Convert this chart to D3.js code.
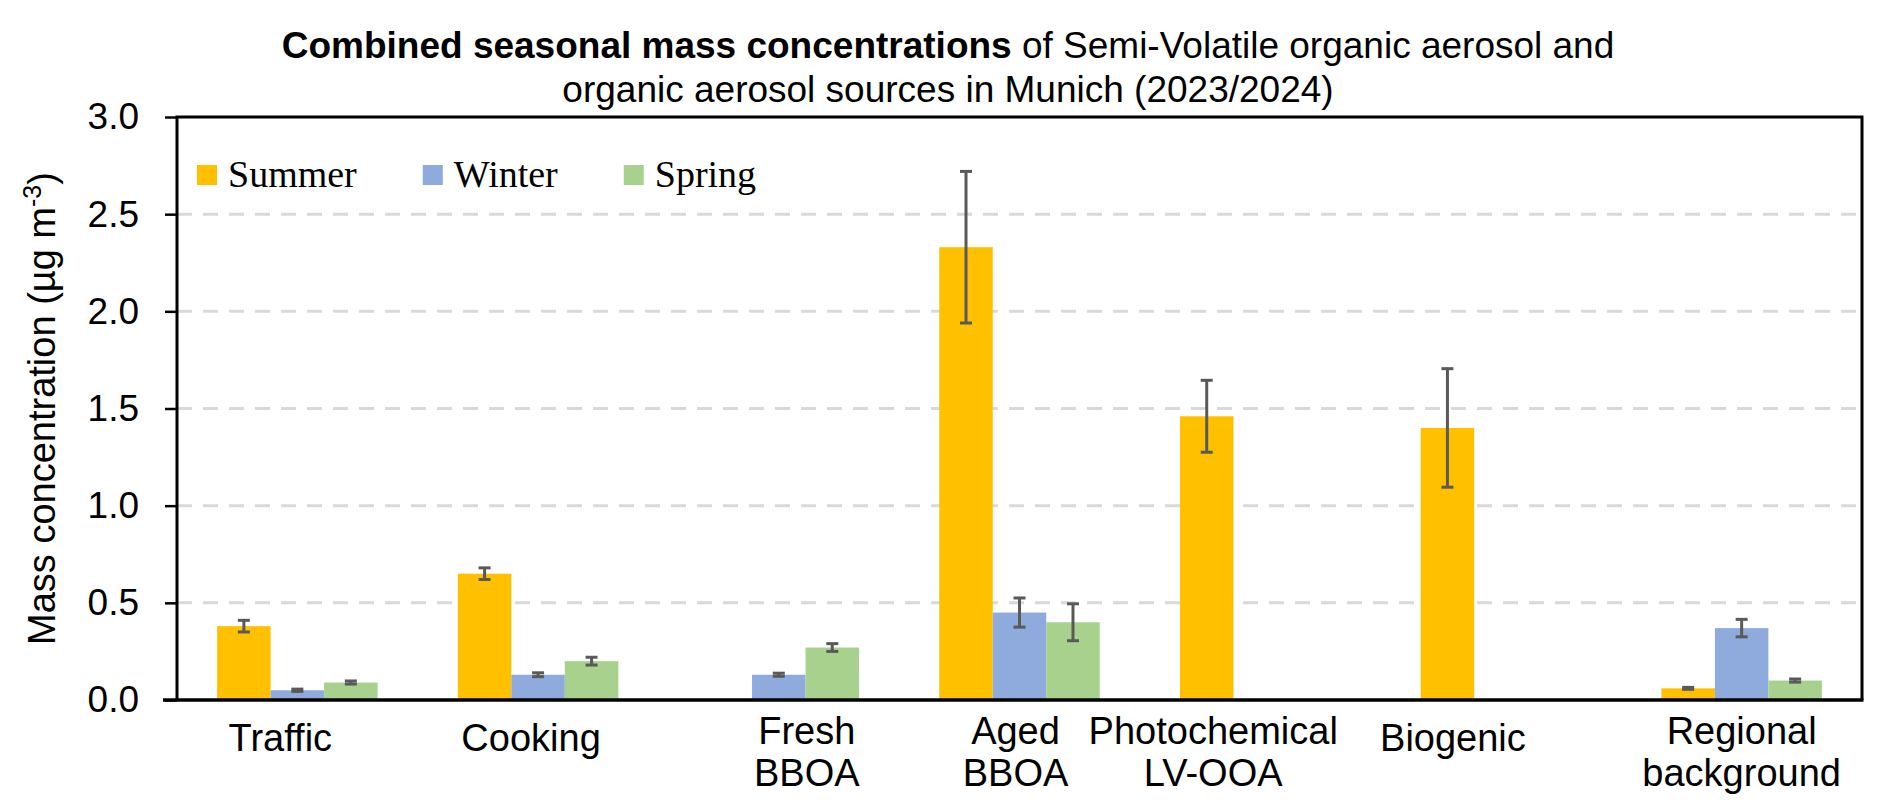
<!DOCTYPE html>
<html>

<head>
    <meta charset="UTF-8">
    <title>Seasonal OA sources Munich</title>
    <script src="https://d3js.org/d3.v7.min.js"></script>
    <style>
        body {
            margin: 0;
            background-color: white;
        }
    </style>
</head>

<body>
    <div id="chart"></div>
    <script>
        // values (µg m-3), null = no bar
        var categories = ['Traffic', 'Cooking', 'Fresh\nBBOA', 'Aged\nBBOA', 'Photochemical\nLV-OOA', 'Biogenic', 'Regional\nbackground'];
        var seasons = ['Summer', 'Winter', 'Spring'];
        var summer = [0.38, 0.65, null, 2.33, 1.46, 1.40, 0.06];
        var winter = [0.05, 0.13, 0.13, 0.45, null, null, 0.37];
        var spring = [0.09, 0.20, 0.27, 0.40, null, null, 0.10];
        var summerErr = [0.03, 0.03, null, 0.39, 0.185, 0.305, 0.005];
        var winterErr = [0.006, 0.01, 0.008, 0.075, null, null, 0.045];
        var springErr = [0.008, 0.02, 0.02, 0.095, null, null, 0.008];
        var yTicks = [0, 0.5, 1.0, 1.5, 2.0, 2.5, 3.0];

        (function(d3) {

            var width = 1892;
            var height = 812;
            var left = 177, right = 1862, top = 117, bottom = 700;

            var colors = { Summer: '#FFC000', Winter: '#8FAADC', Spring: '#A9D18E' };
            var values = { Summer: summer, Winter: winter, Spring: spring };
            var errs = { Summer: summerErr, Winter: winterErr, Spring: springErr };
            // hand placed category labels in the original, offset from band centre
            var labelNudge = [-17, -7, 28, -4, -47, -48, 0];

            var svg = d3.select('#chart')
                .append('svg')
                    .attr('width', width)
                    .attr('height', height)
                    .style('background', 'white');

            var x0 = d3.scaleBand()
                .domain(categories)
                .range([left, right])
                .padding(0);

            var x1 = d3.scaleBand()
                .domain(seasons)
                .range([0, x0.bandwidth()])
                .paddingInner(0)
                .paddingOuter(0.75);

            var y = d3.scaleLinear()
                .domain([0, 3])
                .range([bottom, top]);

            // dashed gridlines
            svg.append('g')
                .selectAll('line')
                .data(yTicks.filter(function(t) { return t > 0 && t < 3; }))
                .enter()
                .append('line')
                    .attr('x1', left)
                    .attr('x2', right)
                    .attr('y1', function(d) { return y(d); })
                    .attr('y2', function(d) { return y(d); })
                    .attr('stroke', '#d9d9d9')
                    .attr('stroke-width', 3)
                    .attr('stroke-dasharray', '15,11');

            // bars
            var rows = [];
            categories.forEach(function(c, i) {
                seasons.forEach(function(s) {
                    if (values[s][i] != null) {
                        rows.push({ cat: c, season: s, value: values[s][i], err: errs[s][i] });
                    }
                });
            });

            svg.append('g')
                .selectAll('rect')
                .data(rows)
                .enter()
                .append('rect')
                    .attr('x', function(d) { return x0(d.cat) + x1(d.season); })
                    .attr('width', x1.bandwidth())
                    .attr('y', function(d) { return y(d.value); })
                    .attr('height', function(d) { return y(0) - y(d.value); })
                    .attr('fill', function(d) { return colors[d.season]; });

            // error bars
            var eb = svg.append('g')
                .selectAll('g')
                .data(rows.filter(function(d) { return d.err != null; }))
                .enter()
                .append('g')
                    .attr('stroke', '#595959')
                    .attr('stroke-width', 3);

            var cx = function(d) { return x0(d.cat) + x1(d.season) + x1.bandwidth() / 2; };
            eb.append('line')
                .attr('x1', cx).attr('x2', cx)
                .attr('y1', function(d) { return y(d.value - d.err); })
                .attr('y2', function(d) { return y(d.value + d.err); });
            [-1, 1].forEach(function(sign) {
                eb.append('line')
                    .attr('x1', function(d) { return cx(d) - 6; })
                    .attr('x2', function(d) { return cx(d) + 6; })
                    .attr('y1', function(d) { return y(d.value + sign * d.err); })
                    .attr('y2', function(d) { return y(d.value + sign * d.err); });
            });

            // frame
            svg.append('path')
                .attr('d', 'M' + left + ',' + bottom + 'V' + top + 'H' + right + 'V' + bottom)
                .attr('fill', 'none')
                .attr('stroke', 'black')
                .attr('stroke-width', 3);
            svg.append('line')
                .attr('x1', left - 14).attr('x2', right + 1.5)
                .attr('y1', bottom).attr('y2', bottom)
                .attr('stroke', 'black')
                .attr('stroke-width', 3.5);

            // y axis
            var yAxis = svg.append('g')
                .attr('transform', 'translate(' + left + ',0)')
                .call(d3.axisLeft(y).tickValues(yTicks).tickSize(12).tickPadding(26).tickFormat(d3.format('.1f')));
            yAxis.select('.domain').remove();
            yAxis.selectAll('.tick line').attr('stroke', 'black').attr('stroke-width', 2.5);
            yAxis.selectAll('.tick text')
                .attr('font-family', 'Liberation Sans, Arial, sans-serif')
                .attr('font-size', 37)
                .attr('fill', 'black');

            // y title
            var yt = svg.append('text')
                .attr('transform', 'translate(55,' + ((top + bottom) / 2) + ') rotate(-90)')
                .attr('text-anchor', 'middle')
                .attr('font-family', 'Liberation Sans, Arial, sans-serif')
                .attr('font-size', 38)
                .attr('fill', 'black');
            yt.append('tspan').text('Mass concentration (µg m');
            yt.append('tspan').attr('font-size', 25).attr('dy', -14).text('-3');
            yt.append('tspan').attr('dy', 14).text(')');

            // category labels
            var cl = svg.append('g')
                .selectAll('text')
                .data(categories)
                .enter()
                .append('text')
                    .attr('text-anchor', 'middle')
                    .attr('font-family', 'Liberation Sans, Arial, sans-serif')
                    .attr('font-size', 38)
                    .attr('fill', 'black')
                    .attr('x', function(d, i) { return x0(d) + x0.bandwidth() / 2 + labelNudge[i]; })
                    .attr('y', function(d) { return d.indexOf('\n') >= 0 ? 744 : 751; });
            cl.each(function(d, i) {
                var t = d3.select(this);
                var lx = x0(d) + x0.bandwidth() / 2 + labelNudge[i];
                d.split('\n').forEach(function(line, k) {
                    t.append('tspan')
                        .attr('x', lx)
                        .attr('dy', k === 0 ? 0 : 42)
                        .text(line);
                });
            });

            // legend
            var lg = svg.append('g')
                .attr('font-family', 'Liberation Serif, Times New Roman, serif')
                .attr('font-size', 38);
            var lx = 197;
            seasons.forEach(function(s) {
                lg.append('rect')
                    .attr('x', lx).attr('y', 165)
                    .attr('width', 20).attr('height', 20)
                    .attr('fill', colors[s]);
                var t = lg.append('text')
                    .attr('x', lx + 31).attr('y', 187)
                    .attr('fill', 'black')
                    .text(s);
                lx = lx + 31 + t.node().getComputedTextLength() + 66;
            });

            // title
            var title = svg.append('g')
                .attr('font-family', 'Liberation Sans, Arial, sans-serif')
                .attr('font-size', 37)
                .attr('text-anchor', 'middle')
                .attr('fill', 'black');
            var t1 = title.append('text').attr('x', 948).attr('y', 58);
            t1.append('tspan').attr('font-weight', 'bold').text('Combined seasonal mass concentrations');
            t1.append('tspan').text(' of Semi-Volatile organic aerosol and');
            title.append('text').attr('x', 948).attr('y', 102)
                .text('organic aerosol sources in Munich (2023/2024)');

        })(window.d3);
    </script>
</body>

</html>
